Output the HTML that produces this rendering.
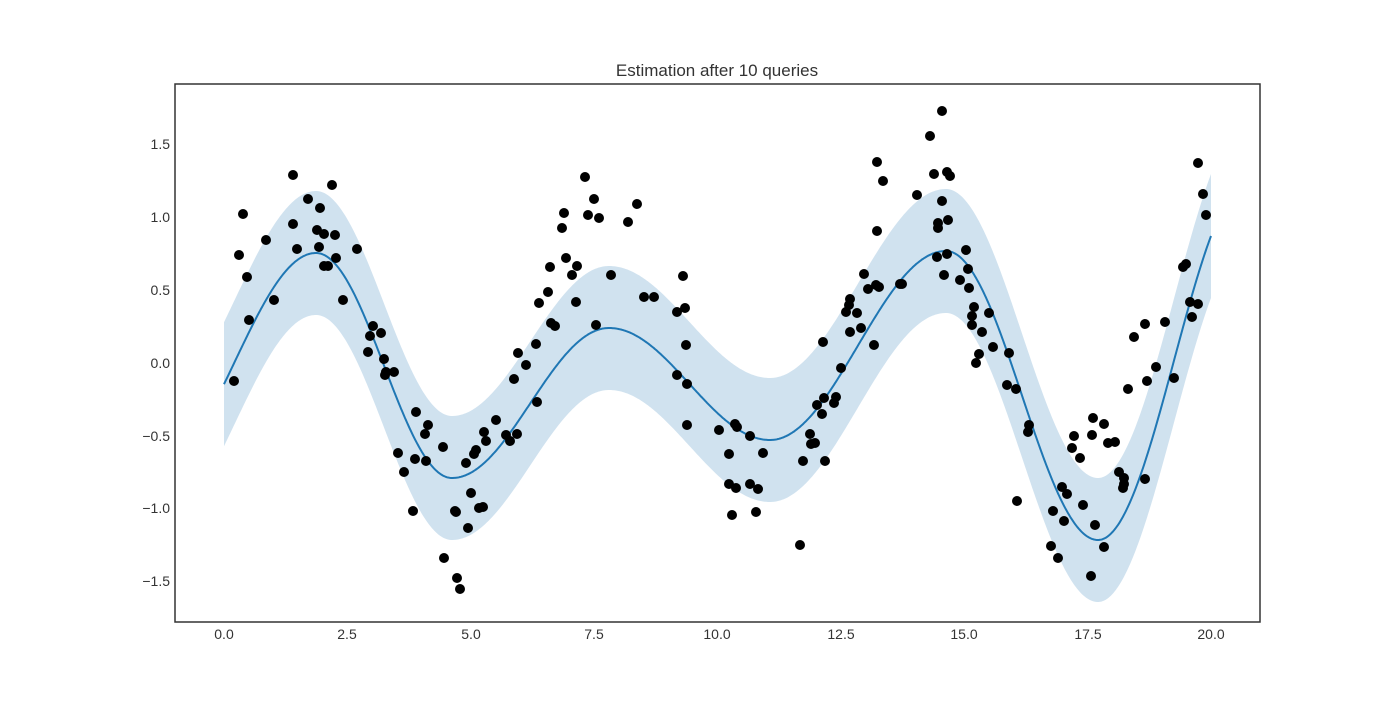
<!DOCTYPE html>
<html><head><meta charset="utf-8"><style>
html,body{margin:0;padding:0;background:#fff;}
svg text{font-family:"Liberation Sans",sans-serif;fill:#333;}
</style></head><body>
<svg id="s" width="1400" height="700" xmlns="http://www.w3.org/2000/svg">
<rect width="1400" height="700" fill="#fff"/>
<path id="band" fill="#d0e2ef" stroke="none"/>
<path id="mean" fill="none" stroke="#1f77b4" stroke-width="2"/>
<g id="dots" fill="#000"></g>
<rect x="175" y="84" width="1085" height="538" fill="none" stroke="#333" stroke-width="1.5"/>
<text x="717" y="76" font-size="17" text-anchor="middle">Estimation after 10 queries</text>
<g font-size="14" text-anchor="end">
<text x="170" y="149">1.5</text>
<text x="170" y="222">1.0</text>
<text x="170" y="295">0.5</text>
<text x="170" y="368">0.0</text>
<text x="170" y="441">−0.5</text>
<text x="170" y="513">−1.0</text>
<text x="170" y="586">−1.5</text>
</g>
<g font-size="14" text-anchor="middle">
<text x="224" y="639">0.0</text>
<text x="347" y="639">2.5</text>
<text x="471" y="639">5.0</text>
<text x="594" y="639">7.5</text>
<text x="717" y="639">10.0</text>
<text x="841" y="639">12.5</text>
<text x="964" y="639">15.0</text>
<text x="1088" y="639">17.5</text>
<text x="1211" y="639">20.0</text>
</g>
</svg>
<script>
var ext=[[316,253],[452,478],[609,328],[770,440],[946,251],[1098,540]];
function f(x){
 if(x<316){var t0=0.433,t=t0+(x-224)/92*(1-t0);return 470+(253-470)*(1-Math.cos(Math.PI*t))/2;}
 if(x>=1098){var t1=0.742,t=(x-1098)/113*t1;return 540+(180-540)*(1-Math.cos(Math.PI*t))/2;}
 for(var i=0;i<ext.length-1;i++){var a=ext[i],b=ext[i+1];if(x>=a[0]&&x<b[0]){var t=(x-a[0])/(b[0]-a[0]);return a[1]+(b[1]-a[1])*(1-Math.cos(Math.PI*t))/2;}}
}
var m="",up=[],lo=[];
for(var x=224;x<=1211;x+=1){var y=f(x);m+=(x==224?"M":"L")+x+","+y.toFixed(1);up.push(x+","+(y-62).toFixed(1));lo.push(x+","+(y+62).toFixed(1));}
document.getElementById("mean").setAttribute("d",m);
document.getElementById("band").setAttribute("d","M"+up.join("L")+"L"+lo.reverse().join("L")+"Z");
var P=[234,381,239,255,243,214,247,277,249,320,266,240,274,300,293,175,293,224,297,249,308,199,317,230,319,247,320,208,324,234,324,266,328,266,332,185,335,235,336,258,343,300,357,249,368,352,370,336,373,326,381,333,384,359,385,375,386,372,394,372,398,453,404,472,413,511,416,412,415,459,425,434,426,461,428,425,443,447,444,558,455,511,456,512,457,578,460,589,466,463,468,528,471,493,474,454,476,450,479,508,483,507,484,432,486,441,496,420,506,435,510,441,514,379,517,434,518,353,526,365,536,344,537,402,539,303,548,292,550,267,551,323,555,326,562,228,564,213,566,258,572,275,576,302,577,266,585,177,588,215,594,199,596,325,599,218,611,275,628,222,637,204,644,297,654,297,677,312,677,375,683,276,685,308,686,345,687,384,687,425,719,430,729,454,729,484,732,515,735,424,736,488,737,427,750,436,750,484,756,512,758,489,763,453,800,545,803,461,810,434,811,444,815,443,817,405,822,414,823,342,824,398,825,461,834,403,836,397,841,368,846,312,849,305,850,332,850,299,857,313,861,328,864,274,868,289,874,345,876,285,877,162,877,231,879,287,883,181,900,284,902,284,917,195,930,136,934,174,937,257,938,228,938,223,942,111,942,201,944,275,947,172,947,254,948,220,950,176,960,280,966,250,968,269,969,288,972,325,972,316,974,307,976,363,979,354,982,332,989,313,993,347,1007,385,1009,353,1016,389,1017,501,1028,432,1029,425,1051,546,1053,511,1058,558,1062,487,1064,521,1067,494,1072,448,1074,436,1080,458,1083,505,1091,576,1092,435,1093,418,1095,525,1104,547,1104,424,1108,443,1115,442,1119,472,1123,488,1124,478,1124,484,1128,389,1134,337,1145,324,1145,479,1147,381,1156,367,1165,322,1174,378,1183,267,1186,264,1190,302,1192,317,1198,163,1198,304,1203,194,1206,215];
var g=document.getElementById("dots"),h="";
for(var i=0;i<P.length;i+=2)h+='<circle cx="'+P[i]+'" cy="'+P[i+1]+'" r="5"/>';
g.innerHTML=h;
</script>
</body></html>
